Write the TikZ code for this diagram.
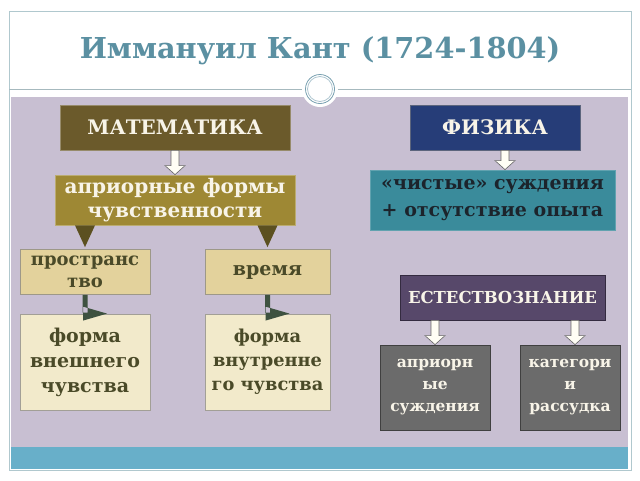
\documentclass[tikz,border=0pt]{standalone}
\usepackage{fontspec}
\setmainfont{DejaVu Serif}
\usetikzlibrary{calc}
\definecolor{mathfill}{RGB}{107,90,43}
\definecolor{aprifill}{RGB}{158,136,52}
\definecolor{tanfill}{RGB}{227,210,156}
\definecolor{creamfill}{RGB}{242,234,203}
\definecolor{olivetext}{RGB}{74,74,40}
\definecolor{physfill}{RGB}{38,61,120}
\definecolor{purefill}{RGB}{58,139,155}
\definecolor{purtext}{RGB}{28,36,44}
\definecolor{natfill}{RGB}{87,72,106}
\definecolor{grayfill}{RGB}{107,107,107}
\definecolor{lilac}{RGB}{200,191,210}
\definecolor{barblue}{RGB}{104,175,201}
\definecolor{titleblue}{RGB}{91,144,162}
\definecolor{framecol}{RGB}{176,200,206}
\definecolor{ringcol}{RGB}{120,160,176}
\definecolor{trioliv}{RGB}{92,80,32}
\definecolor{darkgreen}{RGB}{62,82,64}
\definecolor{lighttext}{RGB}{248,244,232}
\tikzset{
  box/.style={draw=#1!70!white, line width=0.8pt, inner sep=0pt, align=center, font=\bfseries},
  hollow/.style={draw=gray!80!black, fill=white!96!yellow, line width=0.6pt},
}
\begin{document}
\begin{tikzpicture}[x=1pt,y=-1pt]
\useasboundingbox (0,0) rectangle (640,480);
\fill[white] (0,0) rectangle (640,480);
% frame
\fill[lilac] (11,97) rectangle (628,447);
\fill[barblue] (11,447) rectangle (628,469);
\draw[framecol, line width=0.8pt] (9,11) rectangle (631,470);
\draw[framecol!80!gray, line width=0.8pt] (9,89) -- (631,89);
\fill[white] (320,89) circle (18);
\draw[ringcol, line width=0.8pt] (320,89) circle (14.5);
\draw[ringcol!60!white, line width=0.8pt] (320,89) circle (12.5);
% title
\node[font=\bfseries\fontsize{28.8}{34}\selectfont, text=titleblue] (title) at (320,51) {Иммануил Кант (1724-1804)};
% left column
\node[box=mathfill, fill=mathfill, text=lighttext, minimum width=230, minimum height=45, font=\bfseries\fontsize{20}{24}\selectfont] (math) at (175,127.5) {МАТЕМАТИКА};
\node[box=aprifill, fill=aprifill, text=lighttext, minimum width=240, minimum height=50, font=\bfseries\fontsize{20}{24}\selectfont] (apri) at (175,200) {априорные формы\\чувственности};
\node[box=tanfill, fill=tanfill, draw=gray!70!tanfill, text=olivetext, minimum width=130, minimum height=45, font=\bfseries\fontsize{18}{22}\selectfont] (space) at (85,272) {пространс\\тво};
\node[box=tanfill, fill=tanfill, draw=gray!70!tanfill, text=olivetext, minimum width=125, minimum height=45, font=\bfseries\fontsize{19}{20}\selectfont] (time) at (267.5,272) {время};
\node[box=creamfill, fill=creamfill, draw=gray!70!creamfill, text=olivetext, minimum width=130, minimum height=96, font=\bfseries\fontsize{19}{25}\selectfont] (fext) at (85,362) {форма\\внешнего\\чувства};
\node[box=creamfill, fill=creamfill, draw=gray!70!creamfill, text=olivetext, minimum width=125, minimum height=96, font=\bfseries\fontsize{17.8}{24}\selectfont] (fint) at (267.5,362) {форма\\внутренне\\го чувства};
% right column
\node[box=physfill, fill=physfill, draw=gray!60!physfill, text=lighttext, minimum width=170, minimum height=45, font=\bfseries\fontsize{20}{24}\selectfont] (phys) at (495,127.5) {ФИЗИКА};
\node[box=purefill, fill=purefill, draw=purefill!80!white, text=purtext, minimum width=245, minimum height=60, font=\bfseries\fontsize{19}{27}\selectfont] (pure) at (492.5,200) {«чистые» суждения\\+ отсутствие опыта};
\node[box=natfill, fill=natfill, draw=natfill!60!black, text=lighttext, minimum width=205, minimum height=45, font=\bfseries\fontsize{16.5}{18}\selectfont] (nat) at (502.5,297.5) {ЕСТЕСТВОЗНАНИЕ};
\node[box=grayfill, fill=grayfill, draw=grayfill!60!black, text=lighttext, minimum width=110, minimum height=85, font=\bfseries\fontsize{15.5}{22}\selectfont] (ajudg) at (435,387.5) {априорн\\ые\\суждения};
\node[box=grayfill, fill=grayfill, draw=grayfill!60!black, text=lighttext, minimum width=100, minimum height=85, font=\bfseries\fontsize{15.5}{22}\selectfont] (cat) at (570,387.5) {категори\\и\\рассудка};
% hollow block arrows
\newcommand{\blockdown}[2]{%
  \path[hollow] let \p1=#1, \p2=#2 in
    (\x1-4pt,\y1) -- (\x1-4pt,\y2+9pt) -- (\x1-10pt,\y2+9pt) -- (\x1,\y2)
    -- (\x1+10pt,\y2+9pt) -- (\x1+4pt,\y2+9pt) -- (\x1+4pt,\y1) -- cycle;}
\blockdown{(math.south)}{(apri.north)}
\coordinate (pa) at ($(phys.south)+(10,0)$);
\blockdown{(pa)}{(pa |- pure.north)}
\blockdown{(ajudg.north |- nat.south)}{(ajudg.north)}
\coordinate (nc) at ($(cat.north)+(5,0)$);
\blockdown{(nc |- nat.south)}{(nc)}
% dark triangles from apri
\fill[trioliv] let \p1=(space.north), \p2=(apri.south) in
  (\x1-10pt,\y2) -- (\x1+10pt,\y2) -- (\x1,\y1+2pt) -- cycle;
\fill[trioliv] let \p1=(time.north), \p2=(apri.south) in
  (\x1-10pt,\y2) -- (\x1+10pt,\y2) -- (\x1,\y1+2pt) -- cycle;
% dark green bent arrows
\newcommand{\greenarrow}[2]{%
  \fill[darkgreen] let \p1=#1, \p2=#2 in
    (\x1-2.5pt,\y1) -- (\x1-2.5pt,\y2+1pt) -- (\x1+2.5pt,\y2+1pt) -- (\x1+2.5pt,\y1) -- cycle
    (\x1-2pt,\y2+7pt) -- (\x1+22pt,\y2) -- (\x1-2pt,\y2-7pt) -- cycle;}
\greenarrow{(space.south)}{(fext.north)}
\greenarrow{(time.south)}{(fint.north)}
\end{tikzpicture}
\end{document}
